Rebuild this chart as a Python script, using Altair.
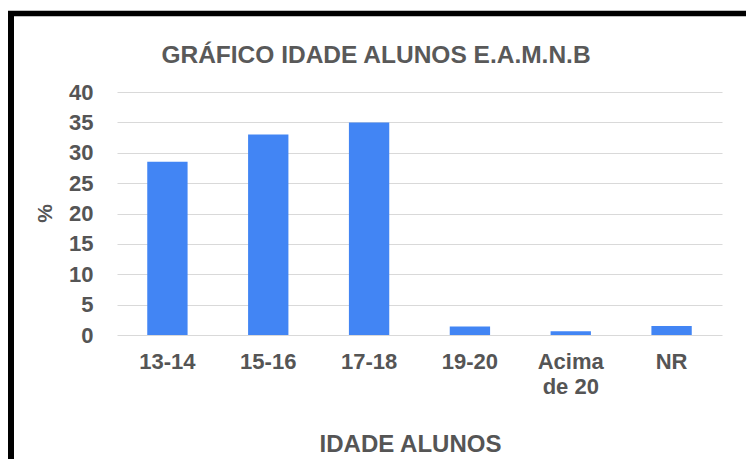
import altair as alt
import pandas as pd

categories = ["13-14", "15-16", "17-18", "19-20", "Acima de 20", "NR"]
values = [28.5, 33.0, 35.0, 1.4, 0.6, 1.5]
y_ticks = [0, 5, 10, 15, 20, 25, 30, 35, 40]
chart_title = "GRÁFICO IDADE ALUNOS E.A.M.N.B"

df = pd.DataFrame({"faixa": categories, "pct": values})

FONT = "Liberation Sans"
TXT = "#555555"

bars = alt.Chart(df).mark_bar(color="#4285F4").encode(
    x=alt.X(
        "faixa:N",
        sort=categories,
        scale=alt.Scale(paddingInner=0.6, paddingOuter=0.3),
        axis=alt.Axis(
            title="IDADE ALUNOS",
            labelAngle=0,
            ticks=False,
            domain=False,
            labelPadding=16,
            labelFont=FONT,
            labelFontSize=22,
            labelFontWeight="bold",
            labelColor=TXT,
            labelBaseline="top",
            labelLineHeight=25,
            labelExpr="datum.value == 'Acima de 20' ? ['Acima', 'de 20'] : datum.label",
            titleFont=FONT,
            titleFontSize=24,
            titleFontWeight="bold",
            titleColor=TXT,
            titleX=293,
            titleY=116,
            titleBaseline="alphabetic",
            titleAlign="center",
        ),
    ),
    y=alt.Y(
        "pct:Q",
        scale=alt.Scale(domain=[0, 40], nice=False),
        axis=alt.Axis(
            values=y_ticks,
            title="%",
            ticks=False,
            domain=False,
            grid=True,
            gridColor="#d9d9d9",
            gridWidth=1.2,
            labelPadding=24,
            labelFont=FONT,
            labelFontSize=22,
            labelFontWeight="bold",
            labelColor=TXT,
            titleFont=FONT,
            titleFontSize=21,
            titleFontWeight="bold",
            titleColor=TXT,
            titleAngle=270,
            titleX=-72,
            titleY=121,
            titleBaseline="middle",
            titleAlign="center",
        ),
    ),
)

deco = alt.Data(values=[{"k": 1}])
top_border = alt.Chart(deco).mark_rule(color="black", strokeWidth=5.5).encode(
    x=alt.value(-109), x2=alt.value(640), y=alt.value(-78.5)
)
left_border = alt.Chart(deco).mark_rule(color="black", strokeWidth=6).encode(
    x=alt.value(-106), y=alt.value(-81), y2=alt.value(370)
)
title_text = alt.Chart(deco).mark_text(
    font=FONT,
    fontSize=24.5,
    fontWeight="bold",
    color="#595959",
    align="center",
    baseline="alphabetic",
).encode(x=alt.value(259), y=alt.value(-29), text=alt.value(chart_title))

chart = alt.layer(bars, top_border, left_border, title_text).properties(
    width=605,
    height=243,
    autosize=alt.AutoSizeParams(type="none"),
    padding={"left": 109, "top": 84, "right": 24, "bottom": 124},
    background="white",
).configure_view(stroke=None)

chart.save("out.html", embed_options={"renderer": "svg", "actions": False})
